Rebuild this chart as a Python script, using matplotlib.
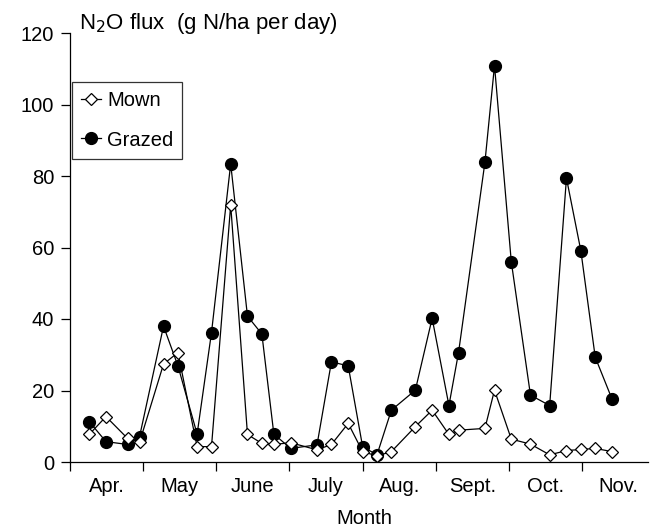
import numpy as np
import matplotlib
matplotlib.use("Agg")
import matplotlib.pyplot as plt

plt.rcParams['font.family'] = ['Liberation Sans', 'DejaVu Sans']

# sampling dates, days after 1 April
days = [8, 15, 24, 29, 39, 45, 53, 59, 67, 74, 80, 85, 92, 103, 109, 116,
        122, 128, 134, 144, 151, 158, 162, 173, 177, 184, 192, 200, 207, 213, 219, 226]

# N2O flux, g N/ha per day
mown = [7.7, 12.7, 6.6, 5.5, 27.4, 30.6, 4.3, 4.3, 71.9, 7.7, 5.2, 4.9, 5.4, 3.4, 4.9, 10.8,
        2.9, 1.7, 2.9, 9.9, 14.5, 7.7, 8.9, 9.4, 20.1, 6.4, 5.0, 2.0, 3.2, 3.5, 3.8, 2.9]
grazed = [11.3, 5.7, 4.9, 7.1, 38.0, 26.9, 7.8, 36.2, 83.4, 40.8, 35.8, 7.8, 3.8, 4.8, 28.0, 26.9,
          4.3, 2.0, 14.5, 20.1, 40.2, 15.8, 30.6, 83.8, 110.9, 56.0, 18.7, 15.8, 79.4, 59.1, 29.3, 17.6]

months = ['Apr.', 'May', 'June', 'July', 'Aug.', 'Sept.', 'Oct.', 'Nov.']
month_len = 30.5
fs = 14.5

fig = plt.figure(figsize=(6.52, 5.29), dpi=100)
ax = fig.add_axes([70 / 652, 1 - 462 / 529, 578 / 652, 429 / 529])

ax.plot(days, grazed, color='black', lw=0.9, marker='o', ms=8.5,
        mfc='black', mec='black', label='Grazed', zorder=2)
ax.plot(days, mown, color='black', lw=0.9, marker='D', ms=6.5,
        mfc='white', mec='black', mew=0.9, label='Mown', zorder=3)

ax.set_xlim(0, 241)
ax.set_ylim(0, 120)
ax.set_yticks(np.arange(0, 121, 20))

# month boundaries as major ticks, names centred between them
ax.set_xticks(np.arange(len(months)) * month_len)
ax.set_xticklabels([])
ax.set_xticks((np.arange(len(months)) + 0.5) * month_len, minor=True)
ax.set_xticklabels(months, minor=True)

ax.tick_params(axis='both', which='major', direction='out', length=6.5, width=0.9,
               labelsize=fs, pad=5)
ax.tick_params(axis='x', which='minor', length=0, labelsize=fs, pad=11)

for s in ['top', 'right']:
    ax.spines[s].set_visible(False)
for s in ['left', 'bottom']:
    ax.spines[s].set_linewidth(0.9)

h, l = ax.get_legend_handles_labels()
leg = ax.legend(h[::-1], l[::-1], loc='upper left', bbox_to_anchor=(0.003, 0.885),
                frameon=True, fancybox=False, edgecolor='black', fontsize=fs,
                handlelength=1.0, handletextpad=0.3, borderpad=0.45, labelspacing=1.0,
                borderaxespad=0.0)
leg.get_frame().set_linewidth(0.9)

fig.text(79 / 652, 1 - 29 / 529, 'N$_2$O flux  (g N/ha per day)', fontsize=16,
         va='baseline', ha='left')
fig.text(364 / 652, 1 - 519 / 529, 'Month', fontsize=fs, va='center', ha='center')

fig.savefig('out.png', dpi=100)
